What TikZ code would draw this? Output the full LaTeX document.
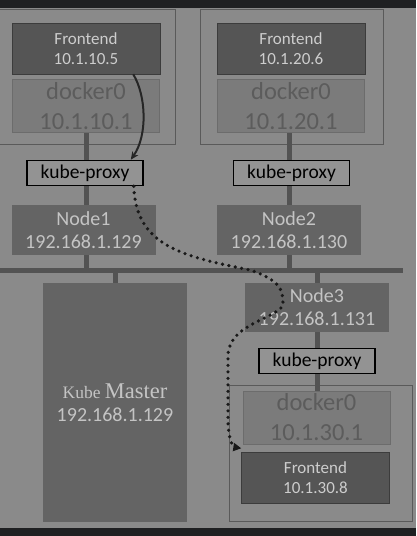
\documentclass[tikz,border=0pt]{standalone}
\usepackage{fontspec}
\setmainfont{Carlito}
\newfontfamily\kmfont{Liberation Serif}
\usetikzlibrary{positioning,calc,backgrounds,arrows.meta}
\definecolor{sfondo}{HTML}{8A8A8A}
\definecolor{banda}{HTML}{1F2022}
\definecolor{fefill}{HTML}{555555}
\definecolor{feline}{HTML}{3C3C3C}
\definecolor{fetext}{HTML}{CDCDCD}
\definecolor{brfill}{HTML}{7B7B7B}
\definecolor{brline}{HTML}{6C6C6C}
\definecolor{brtext}{HTML}{5C5C5C}
\definecolor{hostfill}{HTML}{646464}
\definecolor{hosttext}{HTML}{C4C4C4}
\definecolor{pxfill}{HTML}{939393}
\definecolor{podline}{HTML}{5A5A5A}
\definecolor{wire}{HTML}{535353}
\tikzset{
    cluster/.style={
        x=1pt, y=-1pt,
        % Stile per i contenitori dei pod
        pod/.style={draw=podline, rectangle, line width=1pt, inner sep=0pt},
        % Stile per i frontend (rettangolo scuro)
        frontend/.style={draw=feline, fill=fefill, text=fetext, align=center,
                         minimum width=148pt, minimum height=51pt, inner sep=0pt,
                         font=\fontsize{17}{20}\selectfont},
        % Stile per docker0 (rettangolo chiaro)
        bridge/.style={draw=brline, fill=brfill, text=brtext, align=center,
                       minimum width=147pt, minimum height=53pt, inner sep=0pt,
                       font=\fontsize{24.5}{30}\selectfont},
        % Stile per kube-proxy (bordo nero)
        proxy/.style={draw=black, fill=pxfill, line width=1.5pt,
                      minimum width=116pt, minimum height=25pt, inner sep=0pt,
                      font=\fontsize{19.5}{20}\selectfont},
        % Stile per i nodi fisici
        host/.style={fill=hostfill, text=hosttext, align=center,
                     minimum width=144pt, minimum height=50pt, inner sep=0pt,
                     font=\fontsize{20}{23}\selectfont},
        % Stile per il master
        master/.style={host, minimum height=239pt},
        % Stile per i collegamenti
        link/.style={draw=wire, line width=5pt},
        % Stile per le frecce
        hop/.style={draw=black!85, line width=2pt, -{Stealth[length=8pt,width=7pt]}},
        route/.style={draw=black!90, line width=3.6pt, line cap=round,
                      dash pattern=on 0pt off 6.5pt, -{Triangle[length=8pt,width=8pt]}}
    }
}
\begin{document}
\begin{tikzpicture}[cluster]
    \useasboundingbox (0,0) rectangle (416,536);
    \begin{scope}[on background layer]
        \fill[sfondo] (0,0) rectangle (416,536);
        \fill[banda] (0,0) rectangle (416,8);
        \fill[banda] (0,528) rectangle (416,536);
        \node[pod, minimum width=180pt, minimum height=135pt] (pod1) at (85,76.5) {};
        \node[pod, minimum width=183pt, minimum height=135pt] (pod2) at (291.5,76.5) {};
        \node[pod, minimum width=183pt, minimum height=136pt] (pod3) at (320.5,453) {};
    \end{scope}
    \node[frontend] (fe1) at (86,48.5) {Frontend\\10.1.10.5};
    \node[bridge, below=5pt of fe1] (d1) {docker0\\10.1.10.1};
    \node[frontend] (fe2) at (291,48.5) {Frontend\\10.1.20.6};
    \node[bridge, below=5pt of fe2] (d2) {docker0\\10.1.20.1};
    \node[proxy] (kp1) at (85,173) {kube-proxy};
    \node[proxy] (kp2) at (291.5,173) {kube-proxy};
    \node[host] (n1) at (83.5,230) {Node1\\192.168.1.129};
    \node[host] (n2) at (289,230) {Node2\\192.168.1.130};
    \node[master] (km) at (115,402.5)
        {{\kmfont\fontsize{17.5}{23}\selectfont Kube \fontsize{22.5}{23}\selectfont Master}\\192.168.1.129};
    \node[host, minimum height=49pt] (n3) at (317,307.5) {Node3\\192.168.1.131};
    \node[proxy] (kp3) at (317,361) {kube-proxy};
    \node[bridge] (d3) at (316.5,417.5) {docker0\\10.1.30.1};
    \node[frontend] (fe3) at (315.5,478) {Frontend\\10.1.30.8};
    \coordinate (busL) at (0,270);
    \coordinate (busR) at (403,270);
    \begin{scope}[on background layer]
        \draw[link] (d1.south) -- (d1.south |- busL);
        \draw[link] (n2.north |- d2.south) -- (n2.south |- busL);
        \draw[link] (busL) -- (busR);
        \draw[link] (km.north) -- (km.north |- busL);
        \draw[link] (n3.north |- busL) -- (d3.north -| n3.south);
    \end{scope}
    \draw[hop] ([xshift=-27pt]fe1.south east) .. controls (146,95) and (148,135) .. ([xshift=-13pt]kp1.north east);
    \draw[route] ([xshift=-10pt]kp1.south east) .. controls (136,245) and (180,256) .. (250,270)
        .. controls (280,280) and (283,290) .. (283,303)
        .. controls (283,318) and (229,322) .. (228,355) -- (228,420)
        .. controls (228,438) and (233,447) .. ([yshift=4pt]fe3.north west);
\end{tikzpicture}
\end{document}
